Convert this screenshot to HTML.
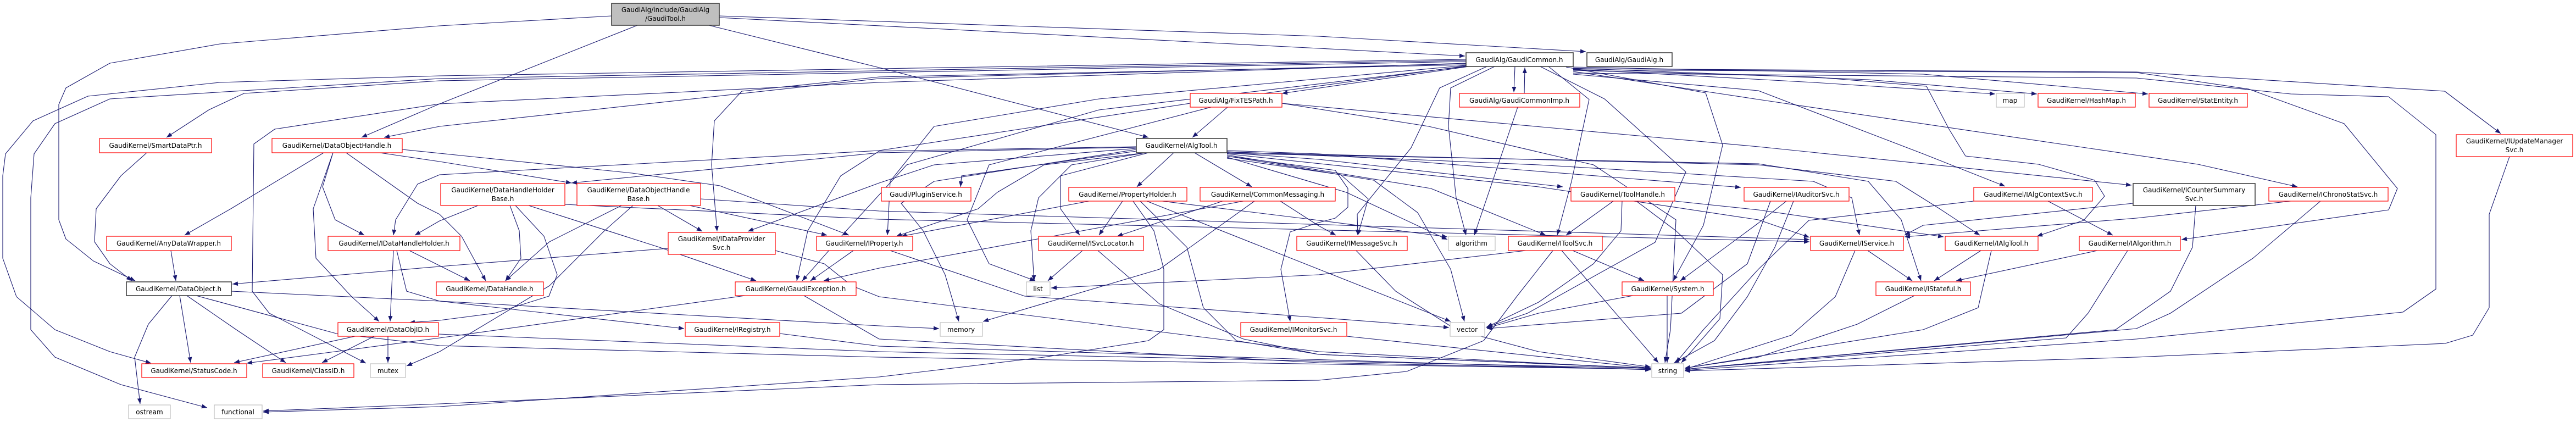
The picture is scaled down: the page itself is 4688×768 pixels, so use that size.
<!DOCTYPE html>
<html><head><meta charset="utf-8"><style>
html,body{margin:0;padding:0;background:#fff;}
svg{display:block;}
text{font-family:"DejaVu Sans","Liberation Sans",sans-serif;font-size:12px;fill:#000;}
.e{fill:none;stroke:#191970;stroke-width:1.1;stroke-linejoin:round;marker-end:url(#a);}
.r{fill:#fff;stroke:#ff0000;stroke-width:1.2;}
.k{fill:#fff;stroke:#404040;stroke-width:1.6;}
.g{fill:#fff;stroke:#bfbfbf;stroke-width:1.2;}
</style></head><body>
<svg width="4688" height="768" viewBox="0 0 4688 768" xmlns="http://www.w3.org/2000/svg">
<defs><marker id="a" viewBox="0 0 10 8" refX="10" refY="4" markerWidth="10" markerHeight="8" markerUnits="userSpaceOnUse" orient="auto"><path d="M0,0 L10,4 L0,8 z" fill="#191970"/></marker></defs>
<g>
<!-- edges -->
<path class="e" d="M1113,29 L800,47 L400,80 L200,115 L120,160 L107,190 L107,400 L120,435 L170,475 L246,511"/>
<path class="e" d="M2668,108 L1600,125 L800,138 L400,150 L160,175 L60,220 L10,280 L5,320 L5,470 L30,540 L100,600 L200,640 L275,661"/>
<path class="e" d="M2668,110 L800,143 L200,180 L100,225 L62,280 L56,360 L56,600 L100,650 L220,700 L377,742"/>
<path class="e" d="M2668,112 L800,147 L444,170 L380,200 L303,250"/>
<path class="e" d="M2668,115 L1600,150 L800,189 L500,235 L462,262 L459,530 L490,570 L666,661"/>
<path class="e" d="M1160,46 L800,189 L658,250"/>
<path class="e" d="M2668,116 L1600,143 L800,230 L699,250"/>
<path class="e" d="M267,278 L220,320 L175,380 L172,440 L200,480 L240,511"/>
<path class="e" d="M589,278 L420,380 L336,428"/>
<path class="e" d="M606,278 L587,340 L610,400 L663,428"/>
<path class="e" d="M606,278 L570,380 L575,470 L640,540 L690,585"/>
<path class="e" d="M630,278 L760,370 L800,390 L840,430 L884,511"/>
<path class="e" d="M691,278 L800,294 L1040,333"/>
<path class="e" d="M732,272 L1150,315 L1310,338 L1545,428"/>
<path class="e" d="M311,456 L320,511"/>
<path class="e" d="M716,456 L710,585"/>
<path class="e" d="M745,456 L855,511"/>
<path class="e" d="M722,456 L740,530 L800,548 L1600,593 L1709,598"/>
<path class="e" d="M1216,452 L800,485 L423,517"/>
<path class="e" d="M421,530 L800,548 L1245,598"/>
<path class="e" d="M327,538 L347,660"/>
<path class="e" d="M340,538 L430,600 L520,660"/>
<path class="e" d="M313,538 L270,590 L245,650 L255,735"/>
<path class="e" d="M357,538 L612,607 L800,629 L1600,650 L3004,672"/>
<path class="e" d="M646,612 L426,660"/>
<path class="e" d="M681,612 L586,660"/>
<path class="e" d="M706,612 L706,660"/>
<path class="e" d="M798,608 L1600,640 L3004,670"/>
<path class="e" d="M1356,538 L800,615 L449,661"/>
<path class="e" d="M1152,374 L1100,420 L1000,520 L850,610 L800,640 L740,666"/>
<path class="e" d="M2826,456 L2760,540 L2700,620 L2560,676 L2400,692 L1600,700 L800,735 L479,748"/>
<path class="e" d="M2062,366 L2100,420 L2118,490 L2118,600 L2090,620 L1900,650 L1600,686 L800,740 L479,750"/>
<path class="e" d="M1309,29 L2400,66 L2886,94"/>
<path class="e" d="M1309,32 L2400,88 L2666,102"/>
<path class="e" d="M1290,46 L1600,123 L2090,250"/>
<path class="e" d="M870,374 L800,402 L755,428"/>
<path class="e" d="M928,374 L945,420 L948,470 L920,511"/>
<path class="e" d="M938,374 L990,430 L1014,500 L999,539 L900,570 L800,583 L745,587"/>
<path class="e" d="M962,374 L1200,450 L1376,511"/>
<path class="e" d="M1028,372 L1600,399 L3293,440"/>
<path class="e" d="M1131,374 L1000,440 L920,511"/>
<path class="e" d="M1197,374 L1278,421"/>
<path class="e" d="M1255,374 L1505,428"/>
<path class="e" d="M1275,362 L1600,384 L3293,436"/>
<path class="e" d="M2668,118 L1600,140 L1350,166 L1300,220 L1295,300 L1305,421"/>
<path class="e" d="M2068,270 L1700,300 L1600,333 L1361,421"/>
<path class="e" d="M1411,456 L1500,480 L1550,520 L1600,540 L2400,640 L3004,671"/>
<path class="e" d="M1553,456 L1475,511"/>
<path class="e" d="M2263,366 L1600,488 L1499,511"/>
<path class="e" d="M2068,267 L1600,275 L1530,320 L1470,420 L1450,511"/>
<path class="e" d="M1463,538 L1600,617 L2400,660 L3004,672"/>
<path class="e" d="M1419,607 L1600,630 L3004,673"/>
<path class="e" d="M2234,195 L2170,250"/>
<path class="e" d="M2680,120 L2333,170"/>
<path class="e" d="M2166,188 L1600,274 L800,318 L760,335 L720,400 L716,428"/>
<path class="e" d="M2333,188 L3200,267 L3879,337"/>
<path class="e" d="M2333,188 L2600,230 L2900,300 L3050,400 L3040,600 L3030,660"/>
<path class="e" d="M2068,268 L1600,278 L1040,333"/>
<path class="e" d="M2068,275 L1750,320 L1748,340"/>
<path class="e" d="M2085,278 L1900,300 L1815,350 L1780,380 L1631,430"/>
<path class="e" d="M2085,278 L1950,300 L1890,360 L1876,420 L1882,511"/>
<path class="e" d="M2090,278 L1930,320 L1930,380 L1965,428"/>
<path class="e" d="M2136,278 L2069,340"/>
<path class="e" d="M2174,278 L2278,340"/>
<path class="e" d="M1982,366 L1640,430"/>
<path class="e" d="M2043,366 L2000,428"/>
<path class="e" d="M2075,366 L2160,450 L2190,560 L2250,620 L2400,645 L3004,670"/>
<path class="e" d="M2087,366 L2400,490 L2640,585"/>
<path class="e" d="M2115,366 L2400,401 L2634,431"/>
<path class="e" d="M2225,366 L2033,430"/>
<path class="e" d="M2283,366 L2110,490 L1789,585"/>
<path class="e" d="M2330,366 L2400,411 L2431,428"/>
<path class="e" d="M2240,285 L2430,310 L2453,343 L2453,377 L2430,397 L2400,405 L2348,422 L2331,490 L2348,585"/>
<path class="e" d="M1970,456 L1907,511"/>
<path class="e" d="M1998,456 L2110,553 L2263,617 L2400,645 L3004,670"/>
<path class="e" d="M2777,456 L2400,500 L1913,524"/>
<path class="e" d="M1620,456 L1865,539 L2400,578 L2637,596"/>
<path class="e" d="M2068,272 L1700,330 L1640,370 L1680,420 L1720,500 L1745,585"/>
<path class="e" d="M2757,121 L2755,168"/>
<path class="e" d="M2774,170 L2775,123"/>
<path class="e" d="M2720,121 L2640,160 L2636,230 L2650,360 L2668,428"/>
<path class="e" d="M2762,195 L2683,428"/>
<path class="e" d="M2706,121 L2620,160 L2568,269 L2470,390 L2471,428"/>
<path class="e" d="M2818,121 L2892,181 L2860,330 L2834,428"/>
<path class="e" d="M2803,121 L2920,180 L3068,313 L3012,441 L2780,570 L2704,596"/>
<path class="e" d="M2850,122 L3104,169 L3135,264 L3100,410 L3045,511"/>
<path class="e" d="M2233,278 L2400,290 L2844,340"/>
<path class="e" d="M2233,282 L2604,343 L2813,428"/>
<path class="e" d="M2233,274 L2400,280 L3168,341"/>
<path class="e" d="M2233,284 L2500,328 L2580,387 L2640,490 L2665,585"/>
<path class="e" d="M2233,288 L2440,318 L2490,362 L2471,428"/>
<path class="e" d="M2233,286 L2450,350 L2634,436"/>
<path class="e" d="M2936,366 L2850,428"/>
<path class="e" d="M2952,366 L2950,420 L2900,480 L2800,550 L2706,595"/>
<path class="e" d="M2978,366 L3050,420 L3135,500 L3130,580 L3060,660"/>
<path class="e" d="M2862,456 L2992,511"/>
<path class="e" d="M2842,456 L3018,660"/>
<path class="e" d="M3034,538 L3034,660"/>
<path class="e" d="M2972,538 L2800,570 L2706,597"/>
<path class="e" d="M3222,366 L3180,480 L3060,570 L2706,598"/>
<path class="e" d="M3251,366 L3200,406 L3058,511"/>
<path class="e" d="M3264,366 L3230,450 L3180,540 L3120,620 L3046,661"/>
<path class="e" d="M2468,456 L2540,530 L2650,600 L2800,640 L3004,668"/>
<path class="e" d="M2451,612 L3004,670"/>
<path class="e" d="M2863,126 L3300,150 L3631,171"/>
<path class="e" d="M2863,124 L3400,145 L3707,171"/>
<path class="e" d="M2863,122 L3500,135 L3909,171"/>
<path class="e" d="M2863,135 L3200,165 L3500,280 L3649,339"/>
<path class="e" d="M2863,128 L3300,140 L3506,157 L3547,235 L3577,284 L3710,299 L3812,328 L3830,357 L3792,401 L3707,430"/>
<path class="e" d="M2863,130 L3200,181 L4000,299 L4181,340"/>
<path class="e" d="M2863,127 L3888,132 L4092,162 L4266,225 L4363,343 L4347,382 L3970,436"/>
<path class="e" d="M2863,125 L3888,131 L4449,166 L4551,243"/>
<path class="e" d="M2863,133 L3888,142 L4169,171 L4347,176 L4433,245 L4433,526 L4373,568 L3888,617 L3066,674"/>
<path class="e" d="M4567,285 L4530,390 L4530,560 L4500,610 L4450,625 L3888,650 L3066,675"/>
<path class="e" d="M4223,366 L4100,470 L3950,570 L3888,598 L3066,672"/>
<path class="e" d="M4169,366 L3888,397 L3466,431"/>
<path class="e" d="M3996,374 L3990,450 L3950,530 L3850,600 L3066,672"/>
<path class="e" d="M3882,370 L3500,410 L3466,428"/>
<path class="e" d="M3727,366 L3845,428"/>
<path class="e" d="M3592,366 L3292,401 L3200,490 L3100,600 L3050,660"/>
<path class="e" d="M3399,456 L3480,511"/>
<path class="e" d="M3376,456 L3340,540 L3260,610 L3066,672"/>
<path class="e" d="M3605,456 L3520,511"/>
<path class="e" d="M3624,456 L3600,560 L3500,600 L3066,670"/>
<path class="e" d="M3817,456 L3560,511"/>
<path class="e" d="M3872,456 L3800,570 L3760,615 L3066,672"/>
<path class="e" d="M3484,538 L3380,590 L3200,650 L3066,670"/>
<path class="e" d="M2233,280 L2800,340 L3200,400 L3293,432"/>
<path class="e" d="M2233,276 L2800,300 L3300,330 L3370,360 L3384,428"/>
<path class="e" d="M3048,366 L3200,382 L3537,431"/>
<path class="e" d="M2233,277 L3200,300 L3450,330 L3530,380 L3603,428"/>
<path class="e" d="M2233,279 L3200,298 L3400,330 L3460,400 L3496,511"/>
<path class="e" d="M2668,119 L2000,180 L1700,230 L1620,330 L1615,428"/>
<path class="e" d="M2668,120 L2300,170 L1800,300 L1760,400 L1800,480 L1884,511"/>
<path class="e" d="M2668,121 L2000,200 L1650,300 L1540,420 L1460,511"/>
</g>
<g>
<!-- nodes -->
<rect x="1113" y="6" width="196" height="40" fill="#bfbfbf" stroke="#404040" stroke-width="1.6"/>
<text x="1211" y="22" text-anchor="middle">GaudiAlg/include/GaudiAlg</text>
<text x="1211" y="38" text-anchor="middle">/GaudiTool.h</text>

<rect class="k" x="2668" y="96" width="195" height="25"/><text x="2765" y="113" text-anchor="middle">GaudiAlg/GaudiCommon.h</text>
<rect class="k" x="2888" y="96" width="155" height="25"/><text x="2965" y="113" text-anchor="middle">GaudiAlg/GaudiAlg.h</text>
<rect class="r" x="2656" y="170" width="219" height="25"/><text x="2765" y="187" text-anchor="middle">GaudiAlg/GaudiCommonImp.h</text>
<rect class="r" x="2166" y="170" width="167" height="25"/><text x="2249" y="187" text-anchor="middle">GaudiAlg/FixTESPath.h</text>
<rect class="g" x="3633" y="170" width="51" height="25"/><text x="3658" y="187" text-anchor="middle">map</text>
<rect class="r" x="3709" y="170" width="177" height="25"/><text x="3797" y="187" text-anchor="middle">GaudiKernel/HashMap.h</text>
<rect class="r" x="3911" y="170" width="179" height="25"/><text x="4000" y="187" text-anchor="middle">GaudiKernel/StatEntity.h</text>
<rect class="r" x="4470" y="245" width="212" height="40"/><text x="4576" y="261" text-anchor="middle">GaudiKernel/IUpdateManager</text><text x="4576" y="277" text-anchor="middle">Svc.h</text>
<rect class="r" x="181" y="252" width="204" height="26"/><text x="283" y="269" text-anchor="middle">GaudiKernel/SmartDataPtr.h</text>
<rect class="r" x="495" y="252" width="237" height="26"/><text x="613" y="269" text-anchor="middle">GaudiKernel/DataObjectHandle.h</text>
<rect class="k" x="2068" y="252" width="165" height="26"/><text x="2150" y="269" text-anchor="middle">GaudiKernel/AlgTool.h</text>
<rect class="r" x="802" y="334" width="226" height="40"/><text x="915" y="350" text-anchor="middle">GaudiKernel/DataHandleHolder</text><text x="915" y="366" text-anchor="middle">Base.h</text>
<rect class="r" x="1050" y="334" width="225" height="40"/><text x="1162" y="350" text-anchor="middle">GaudiKernel/DataObjectHandle</text><text x="1162" y="366" text-anchor="middle">Base.h</text>
<rect class="r" x="1604" y="341" width="163" height="25"/><text x="1685" y="358" text-anchor="middle">Gaudi/PluginService.h</text>
<rect class="r" x="1945" y="341" width="215" height="25"/><text x="2052" y="358" text-anchor="middle">GaudiKernel/PropertyHolder.h</text>
<rect class="r" x="2184" y="341" width="246" height="25"/><text x="2307" y="358" text-anchor="middle">GaudiKernel/CommonMessaging.h</text>
<rect class="r" x="2859" y="341" width="189" height="25"/><text x="2953" y="358" text-anchor="middle">GaudiKernel/ToolHandle.h</text>
<rect class="r" x="3174" y="341" width="191" height="25"/><text x="3269" y="358" text-anchor="middle">GaudiKernel/IAuditorSvc.h</text>
<rect class="r" x="3592" y="341" width="216" height="25"/><text x="3700" y="358" text-anchor="middle">GaudiKernel/IAlgContextSvc.h</text>
<rect class="k" x="3882" y="334" width="222" height="40"/><text x="3993" y="350" text-anchor="middle">GaudiKernel/ICounterSummary</text><text x="3993" y="366" text-anchor="middle">Svc.h</text>
<rect class="r" x="4129" y="341" width="217" height="25"/><text x="4237" y="358" text-anchor="middle">GaudiKernel/IChronoStatSvc.h</text>
<rect class="r" x="194" y="430" width="227" height="26"/><text x="307" y="447" text-anchor="middle">GaudiKernel/AnyDataWrapper.h</text>
<rect class="r" x="597" y="430" width="240" height="26"/><text x="717" y="447" text-anchor="middle">GaudiKernel/IDataHandleHolder.h</text>
<rect class="r" x="1216" y="423" width="195" height="40"/><text x="1313" y="439" text-anchor="middle">GaudiKernel/IDataProvider</text><text x="1313" y="455" text-anchor="middle">Svc.h</text>
<rect class="r" x="1486" y="430" width="175" height="26"/><text x="1573" y="447" text-anchor="middle">GaudiKernel/IProperty.h</text>
<rect class="r" x="1890" y="430" width="191" height="26"/><text x="1985" y="447" text-anchor="middle">GaudiKernel/ISvcLocator.h</text>
<rect class="r" x="2360" y="430" width="201" height="26"/><text x="2460" y="447" text-anchor="middle">GaudiKernel/IMessageSvc.h</text>
<rect class="g" x="2636" y="430" width="85" height="26"/><text x="2678" y="447" text-anchor="middle">algorithm</text>
<rect class="r" x="2745" y="430" width="171" height="26"/><text x="2830" y="447" text-anchor="middle">GaudiKernel/IToolSvc.h</text>
<rect class="r" x="3295" y="430" width="169" height="26"/><text x="3379" y="447" text-anchor="middle">GaudiKernel/IService.h</text>
<rect class="r" x="3540" y="430" width="169" height="26"/><text x="3624" y="447" text-anchor="middle">GaudiKernel/IAlgTool.h</text>
<rect class="r" x="3784" y="430" width="184" height="26"/><text x="3876" y="447" text-anchor="middle">GaudiKernel/IAlgorithm.h</text>
<rect class="k" x="230" y="513" width="191" height="25"/><text x="325" y="530" text-anchor="middle">GaudiKernel/DataObject.h</text>
<rect class="r" x="794" y="513" width="195" height="25"/><text x="891" y="530" text-anchor="middle">GaudiKernel/DataHandle.h</text>
<rect class="r" x="1338" y="513" width="220" height="25"/><text x="1448" y="530" text-anchor="middle">GaudiKernel/GaudiException.h</text>
<rect class="g" x="1868" y="513" width="43" height="25"/><text x="1889" y="530" text-anchor="middle">list</text>
<rect class="r" x="2952" y="513" width="166" height="25"/><text x="3035" y="530" text-anchor="middle">GaudiKernel/System.h</text>
<rect class="r" x="3414" y="513" width="172" height="25"/><text x="3500" y="530" text-anchor="middle">GaudiKernel/IStateful.h</text>
<rect class="r" x="615" y="587" width="183" height="25"/><text x="706" y="604" text-anchor="middle">GaudiKernel/DataObjID.h</text>
<rect class="r" x="1247" y="587" width="172" height="25"/><text x="1333" y="604" text-anchor="middle">GaudiKernel/IRegistry.h</text>
<rect class="g" x="1711" y="587" width="77" height="25"/><text x="1749" y="604" text-anchor="middle">memory</text>
<rect class="r" x="2258" y="587" width="193" height="25"/><text x="2354" y="604" text-anchor="middle">GaudiKernel/IMonitorSvc.h</text>
<rect class="g" x="2639" y="587" width="63" height="25"/><text x="2670" y="604" text-anchor="middle">vector</text>
<rect class="r" x="258" y="662" width="191" height="25"/><text x="353" y="679" text-anchor="middle">GaudiKernel/StatusCode.h</text>
<rect class="r" x="478" y="662" width="166" height="25"/><text x="561" y="679" text-anchor="middle">GaudiKernel/ClassID.h</text>
<rect class="g" x="674" y="662" width="64" height="25"/><text x="706" y="679" text-anchor="middle">mutex</text>
<rect class="g" x="3006" y="662" width="58" height="25"/><text x="3035" y="679" text-anchor="middle">string</text>
<rect class="g" x="234" y="737" width="76" height="25"/><text x="272" y="754" text-anchor="middle">ostream</text>
<rect class="g" x="390" y="737" width="87" height="25"/><text x="433" y="754" text-anchor="middle">functional</text>
</g>
</svg>
</body></html>
